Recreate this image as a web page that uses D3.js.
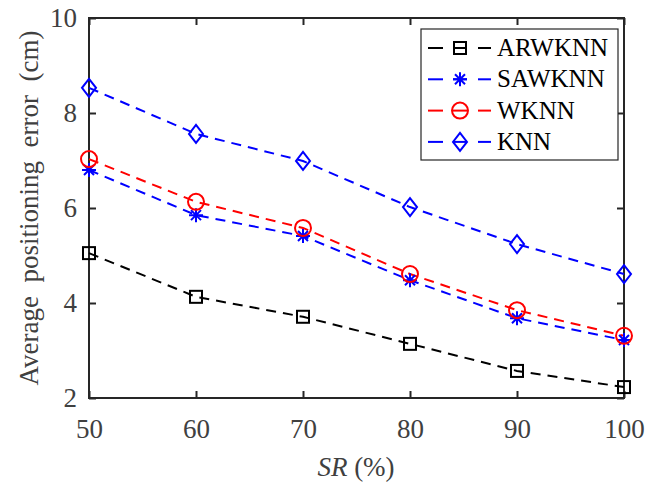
<!DOCTYPE html>
<html><head><meta charset="utf-8">
<script src="https://cdn.jsdelivr.net/npm/d3@7"></script>
</head><body>
<script>
const xValues = [50, 60, 70, 80, 90, 100];
const arwknn = [5.05, 4.13, 3.71, 3.14, 2.57, 2.23];
const sawknn = [6.80, 5.85, 5.41, 4.48, 3.68, 3.22];
const wknn   = [7.03, 6.13, 5.58, 4.61, 3.85, 3.31];
const knn    = [8.53, 7.56, 6.99, 6.02, 5.24, 4.61];
const seriesNames = ["ARWKNN", "SAWKNN", "WKNN", "KNN"];
const xTicks = [50, 60, 70, 80, 90, 100];
const yTicks = [2, 4, 6, 8, 10];

d3.select("body").style("margin", "0px").style("background", "#fff");
const W = 645, H = 486;
const m = {l: 89, r: 21, t: 18, b: 88};
const svg = d3.select("body").append("svg").attr("width", W).attr("height", H)
  .style("display", "block");
const x = d3.scaleLinear().domain([50, 100]).range([m.l, W - m.r]);
const y = d3.scaleLinear().domain([2, 10]).range([H - m.b, m.t]);
const fstyle = (size, extra) => `font-family:'Liberation Serif' !important;font-size:${size}px !important;${extra || ""}`;

const series = [
  {name: seriesNames[0], vals: arwknn, color: "#000000", marker: "square"},
  {name: seriesNames[1], vals: sawknn, color: "#0000ff", marker: "star"},
  {name: seriesNames[2], vals: wknn,   color: "#ff0000", marker: "circle"},
  {name: seriesNames[3], vals: knn,    color: "#0000ff", marker: "diamond"}
];

function drawMarker(g, type, cx, cy, color) {
  const sw = 2;
  if (type === "square") {
    g.append("rect").attr("x", cx - 6).attr("y", cy - 6).attr("width", 12).attr("height", 12)
      .attr("fill", "none").attr("stroke", color).attr("stroke-width", sw);
  } else if (type === "circle") {
    g.append("circle").attr("cx", cx).attr("cy", cy).attr("r", 8)
      .attr("fill", "none").attr("stroke", color).attr("stroke-width", sw);
  } else if (type === "diamond") {
    g.append("path").attr("d", `M${cx},${cy-9}L${cx+7},${cy}L${cx},${cy+9}L${cx-7},${cy}Z`)
      .attr("fill", "none").attr("stroke", color).attr("stroke-width", sw);
  } else if (type === "star") {
    const r = 7, d = 5;
    g.append("path").attr("d",
      `M${cx},${cy-r}L${cx},${cy+r}M${cx-r},${cy}L${cx+r},${cy}M${cx-d},${cy-d}L${cx+d},${cy+d}M${cx-d},${cy+d}L${cx+d},${cy-d}`)
      .attr("fill", "none").attr("stroke", color).attr("stroke-width", sw);
  }
}

const axisColor = "#262626";
const tickColor = "#404040";
svg.append("rect").attr("x", m.l).attr("y", m.t).attr("width", W - m.r - m.l).attr("height", H - m.b - m.t)
  .attr("fill", "none").attr("stroke", axisColor).attr("stroke-width", 2);

const xb = svg.append("g").attr("transform", `translate(0,${H - m.b})`)
  .call(d3.axisBottom(x).tickValues(xTicks).tickSize(-7).tickPadding(21).tickFormat(d3.format("d")));
const xt = svg.append("g").attr("transform", `translate(0,${m.t})`)
  .call(d3.axisTop(x).tickValues(xTicks).tickSize(-7).tickFormat(""));
const yl = svg.append("g").attr("transform", `translate(${m.l},0)`)
  .call(d3.axisLeft(y).tickValues(yTicks).tickSize(-7).tickPadding(12).tickFormat(d3.format("d")));
const yr = svg.append("g").attr("transform", `translate(${W - m.r},0)`)
  .call(d3.axisRight(y).tickValues(yTicks).tickSize(-7).tickFormat(""));
[xb, xt, yl, yr].forEach(g => {
  g.attr("font-family", "Liberation Serif").attr("font-size", 27);
  g.select(".domain").remove();
  g.selectAll(".tick line").attr("stroke", axisColor).attr("stroke-width", 2);
  g.selectAll(".tick text").attr("fill", tickColor).attr("style", fstyle(27));
});
xb.selectAll(".tick text").attr("dy", "0.71em");

const line = d3.line().x((d, i) => x(xValues[i])).y(d => y(d));
series.forEach(s => {
  svg.append("path").datum(s.vals).attr("d", line).attr("fill", "none")
    .attr("stroke", s.color).attr("stroke-width", 2).attr("stroke-dasharray", "10,7");
});
series.forEach(s => {
  const g = svg.append("g");
  s.vals.forEach((v, i) => drawMarker(g, s.marker, x(xValues[i]), y(v), s.color));
});

const lg = svg.append("g");
lg.append("rect").attr("x", 421).attr("y", 29).attr("width", 197).attr("height", 131)
  .attr("fill", "#fff").attr("stroke", "#262626").attr("stroke-width", 1.2);
series.forEach((s, i) => {
  const cy = 48 + i * 31.3;
  lg.append("line").attr("x1", 428).attr("x2", 443).attr("y1", cy).attr("y2", cy)
    .attr("stroke", s.color).attr("stroke-width", 2);
  lg.append("line").attr("x1", 478).attr("x2", 491).attr("y1", cy).attr("y2", cy)
    .attr("stroke", s.color).attr("stroke-width", 2);
  lg.append("line").attr("x1", 453).attr("x2", 467).attr("y1", cy).attr("y2", cy)
    .attr("stroke", s.color).attr("stroke-width", 2);
  drawMarker(lg, s.marker, 460, cy, s.color);
  lg.append("text").attr("x", 497).attr("y", cy + 8).text(s.name)
    .attr("style", fstyle(25)).attr("fill", "#000");
});

const xl = svg.append("text").attr("x", 356).attr("y", 476).attr("text-anchor", "middle")
  .attr("style", fstyle(27)).attr("fill", tickColor);
xl.append("tspan").attr("style", fstyle(27, "font-style:italic")).text("SR");
xl.append("tspan").attr("style", fstyle(27)).text(" (%)");

svg.append("text").attr("transform", `translate(38,${(m.t + H - m.b) / 2}) rotate(-90)`)
  .attr("text-anchor", "middle").attr("style", fstyle(27, "white-space:pre"))
  .attr("fill", tickColor)
  .text("Average  positioning  error  (cm)");
</script>
</body></html>
